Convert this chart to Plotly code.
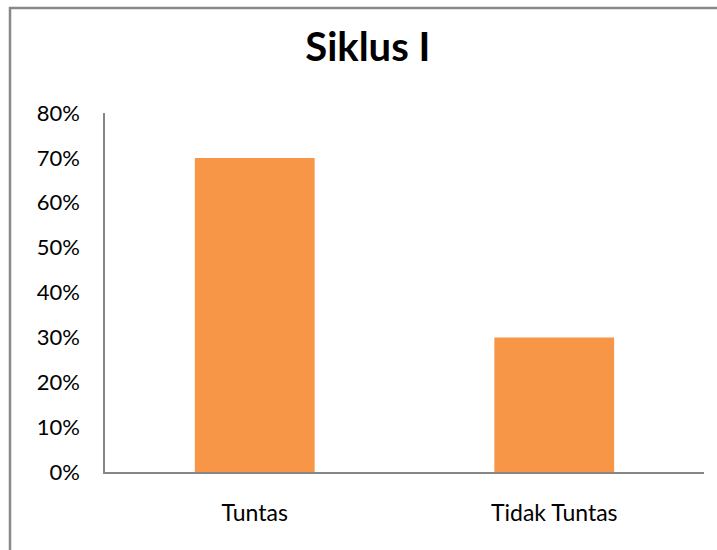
import plotly.graph_objects as go

categories = ["Tuntas", "Tidak Tuntas"]
values = [0.70, 0.30]
tick_vals = [0, 0.1, 0.2, 0.3, 0.4, 0.5, 0.6, 0.7, 0.8]
tick_text = ["0%", "10%", "20%", "30%", "40%", "50%", "60%", "70%", "80%"]

BAR_COLOR = "#F79646"
AXIS_COLOR = "#868686"
FONT = "Lato"

fig = go.Figure(go.Bar(
    x=categories, y=values, marker=dict(color=BAR_COLOR, line=dict(width=0)),
    width=0.4, hoverinfo="skip"))

fig.update_layout(
    width=717, height=550,
    margin=dict(l=105, r=13, t=113, b=78),
    paper_bgcolor="white", plot_bgcolor="white",
    showlegend=False,
    font=dict(family=FONT, size=22, color="#000000"),
    title=dict(text="<b>Siklus I</b>", x=0.513, xanchor="center",
               y=1 - 47 / 550, yanchor="middle",
               font=dict(family=FONT, size=40, color="#000000")),
    xaxis=dict(showgrid=False, zeroline=False, showline=True,
               linecolor=AXIS_COLOR, linewidth=1.5, ticks="",
               ticklabelstandoff=20, tickfont=dict(size=23)),
    yaxis=dict(range=[0, 0.8], showgrid=False, zeroline=False,
               showline=True, linecolor=AXIS_COLOR, linewidth=1.5,
               tickvals=tick_vals, ticktext=tick_text, ticks="",
               ticklabelstandoff=19, tickfont=dict(size=22)),
    shapes=[dict(type="rect", xref="paper", yref="paper",
                 x0=(10 - 105) / 599, x1=1.2,
                 y0=-0.5, y1=(472 - 8) / 359,
                 line=dict(color="#898989", width=2.5),
                 fillcolor="rgba(0,0,0,0)", layer="below")],
)

fig.write_html("out.html")
